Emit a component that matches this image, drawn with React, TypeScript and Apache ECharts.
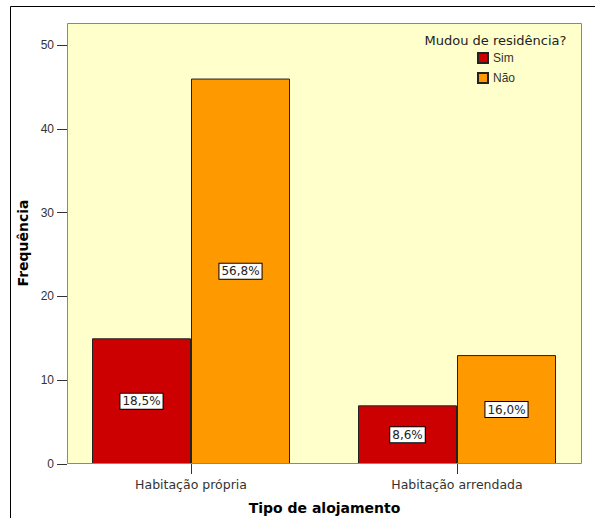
import React, { useEffect, useRef } from "react";
import * as echarts from "echarts";

const categories = ["Habitação própria", "Habitação arrendada"];
const seriesNames = ["Sim", "Não"];
const simValues = [15, 7];
const naoValues = [46, 13];
const simPercent = ["18,5%", "8,6%"];
const naoPercent = ["56,8%", "16,0%"];
const yTicks = [0, 10, 20, 30, 40, 50];

export default function App() {
  const ref = useRef<HTMLDivElement>(null);
  useEffect(() => {
    if (!ref.current) return;
    const chart = echarts.init(ref.current, null, { renderer: "svg" });
    const font = "'Liberation Sans', Arial, sans-serif";
    const wide = "'DejaVu Sans', sans-serif";
    const labelStyle = (arr: string[]) => ({
      show: true,
      position: "inside",
      formatter: (p: any) => arr[p.dataIndex],
      backgroundColor: "#ffffff",
      borderColor: "#000000",
      borderWidth: 1,
      padding: [2, 2, 1, 2],
      color: "#222",
      fontSize: 12,
      fontFamily: wide,
    });
    chart.setOption({
      animation: false,
      grid: [
        { left: 58, right: 5, top: 23, bottom: 54 },
        { left: 58, right: 5, top: 45, bottom: 54 },
      ],
      xAxis: [
        {
          type: "category",
          gridIndex: 0,
          data: categories,
          axisLine: { show: false },
          axisTick: { show: true, alignWithLabel: true, length: 10, lineStyle: { color: "#333" } },
          axisLabel: { color: "#333", fontSize: 12.5, fontFamily: wide, margin: 14 },
        },
        { type: "category", gridIndex: 1, data: categories, show: false },
      ],
      yAxis: [
        { type: "value", gridIndex: 0, min: 0, max: 52.63, show: false, splitLine: { show: false } },
        {
          type: "value",
          gridIndex: 1,
          min: 0,
          max: yTicks[yTicks.length - 1],
          interval: 10,
          offset: -9,
          axisLine: { show: false },
          axisTick: { show: true, length: 10, lineStyle: { color: "#333" } },
          splitLine: { show: false },
          axisLabel: { color: "#333", fontSize: 12, fontFamily: font, margin: 13 },
        },
      ],
      legend: {
        orient: "vertical",
        left: 472,
        top: 47,
        itemWidth: 10,
        itemHeight: 10,
        itemGap: 8,
        icon: "rect",
        textStyle: { color: "#333", fontSize: 12, fontFamily: font },
        data: seriesNames,
      },
      series: [
        {
          name: seriesNames[0],
          type: "bar",
          xAxisIndex: 0,
          yAxisIndex: 0,
          data: simValues,
          barWidth: 99,
          barGap: "0%",
          itemStyle: { color: "#CC0000", borderColor: "#222", borderWidth: 1 },
          label: labelStyle(simPercent),
        },
        {
          name: seriesNames[1],
          type: "bar",
          xAxisIndex: 0,
          yAxisIndex: 0,
          data: naoValues,
          barWidth: 99,
          barGap: "0%",
          itemStyle: { color: "#FF9900", borderColor: "#222", borderWidth: 1 },
          label: labelStyle(naoPercent),
        },
      ],
      graphic: [
        {
          type: "rect",
          z: -10,
          shape: { x: 67, y: 23, width: 515, height: 441 },
          style: { fill: "#FFFFCC", stroke: "none" },
        },
        {
          type: "rect",
          z: 100,
          shape: { x: 67.5, y: 23.5, width: 514, height: 440 },
          style: { fill: "none", stroke: "#888", lineWidth: 1 },
        },
        {
          type: "rect",
          z: 100,
          shape: { x: 10.5, y: 6.5, width: 800, height: 800 },
          style: { fill: "none", stroke: "#000", lineWidth: 1 },
        },
        {
          type: "text",
          x: 495.5,
          y: 40,
          style: {
            text: "Mudou de residência?",
            fontSize: 13,
            fontFamily: wide,
            fill: "#222",
            textAlign: "center",
            textVerticalAlign: "middle",
          },
        },
        {
          type: "text",
          x: 324.5,
          y: 508,
          style: {
            text: "Tipo de alojamento",
            fontSize: 14,
            fontWeight: "bold",
            fontFamily: wide,
            fill: "#000",
            textAlign: "center",
            textVerticalAlign: "middle",
          },
        },
        {
          type: "text",
          x: 23,
          y: 243,
          rotation: Math.PI / 2,
          style: {
            text: "Frequência",
            fontSize: 14,
            fontWeight: "bold",
            fontFamily: wide,
            fill: "#000",
            textAlign: "center",
            textVerticalAlign: "middle",
          },
        },
      ],
    });
    return () => chart.dispose();
  }, []);
  return (
    <div
      ref={ref}
      style={{ position: "fixed", left: 0, top: 0, width: 595, height: 518, background: "#fff" }}
    />
  );
}
